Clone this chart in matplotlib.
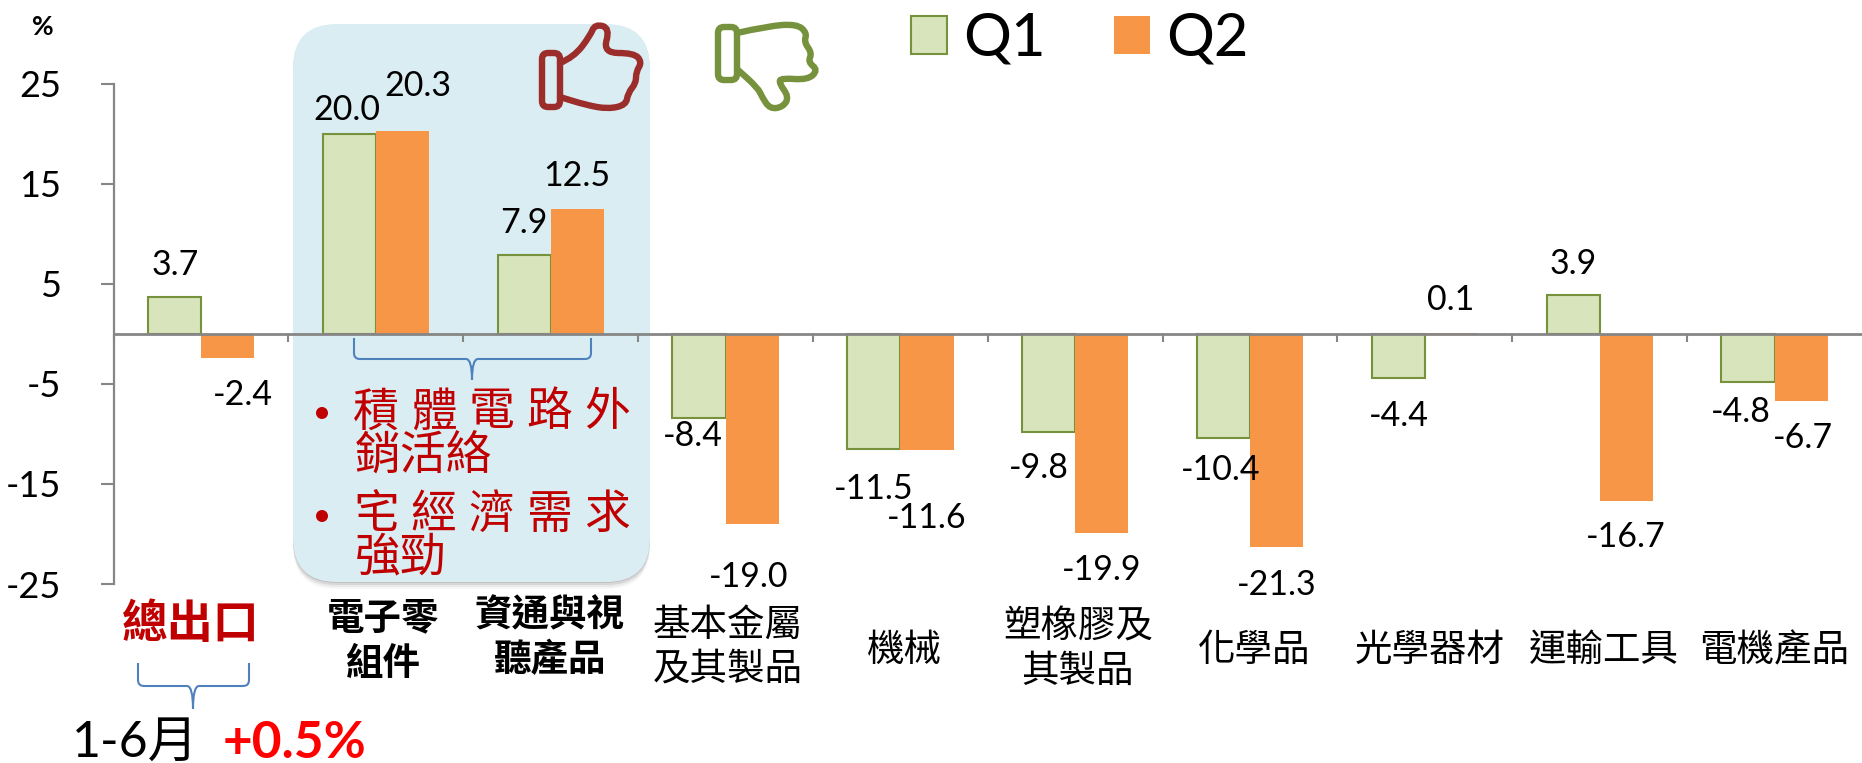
import matplotlib
matplotlib.use('Agg')
import matplotlib.pyplot as plt
from matplotlib.patches import FancyBboxPatch, Circle, PathPatch
from matplotlib.path import Path
from matplotlib.transforms import Affine2D
import numpy as np

plt.rcParams['font.family'] = ['Lato', 'Noto Sans CJK TC', 'DejaVu Sans']
plt.rcParams['axes.unicode_minus'] = False

categories = ['總出口', '電子零組件', '資通與視聽產品', '基本金屬及其製品', '機械',
              '塑橡膠及其製品', '化學品', '光學器材', '運輸工具', '電機產品']
q1 = [3.7, 20.0, 7.9, -8.4, -11.5, -9.8, -10.4, -4.4, 3.9, -4.8]
q2 = [-2.4, 20.3, 12.5, -19.0, -11.6, -19.9, -21.3, 0.1, -16.7, -6.7]
yticks = [25, 15, 5, -5, -15, -25]

W, H = 1862, 763
GREEN_EDGE = '#76923C'
GREEN_FILL = '#D8E4BC'
ORANGE = '#F79646'
DARK_RED = '#C00000'
BRACE = '#4F81BD'

# label centres in picture pixels, hand placed like the original
q1_label_pos = [(175, 265), (347, 110), (524, 223), (693, 436), (874, 489),
                (1039, 468), (1221, 470), (1399, 416), (1573, 264), (1741, 412)]
q2_label_pos = [(243, 395), (418, 86), (577, 176), (749, 577), (927, 518),
                (1102, 570), (1277, 585), (1451, 300), (1626, 537), (1803, 438)]

fig = plt.figure(figsize=(W / 100, H / 100), dpi=100)
ax = fig.add_axes([113.6 / W, 1 - 584 / H, (W - 113.6) / W, 500 / H])
ax.patch.set_alpha(0)

# picture pixels -> display, y down
px = Affine2D().scale(1, -1).translate(0, H)


def put(x, y, s, size, **kw):
    kw.setdefault('ha', 'center')
    kw.setdefault('va', 'center')
    return fig.text(x / W, 1 - y / H, s, fontsize=size, **kw)


def add_px(patch, zorder=1):
    patch.set_transform(px)
    patch.set_zorder(zorder)
    fig.add_artist(patch)


# blue highlight box, with a soft shadow under it
for off, alpha in [(7, 0.05), (5, 0.08), (3, 0.12), (1, 0.16)]:
    add_px(FancyBboxPatch((293 + 40, 24 + 40 + off), 357 - 80, 558 - 80,
                          boxstyle='round,pad=40,rounding_size=44',
                          fc='#555555', ec='none', alpha=alpha), zorder=-5)
add_px(FancyBboxPatch((293 + 40, 24 + 40), 357 - 80, 558 - 80,
                      boxstyle='round,pad=40,rounding_size=44',
                      fc='#DAEDF3', ec='none'), zorder=-4)

x = np.arange(len(categories))
width = 0.304
ax.bar(x - width / 2, q1, width, color=GREEN_FILL, edgecolor=GREEN_EDGE, linewidth=1.5, label='Q1', zorder=3)
ax.bar(x + width / 2, q2, width, color=ORANGE, linewidth=0, label='Q2', zorder=3)

ax.set_xlim(-0.5, len(categories) - 0.5)
ax.set_ylim(-25, 25)
ax.set_yticks(yticks)
ax.set_xticks(np.arange(len(categories)) - 0.5)
ax.set_xticklabels([])
ax.tick_params(axis='y', labelsize=26, length=9.5, width=1.5, color='#868686', pad=28)
ax.tick_params(axis='x', length=6, width=1.5, color='#868686')
for s in ['top', 'right']:
    ax.spines[s].set_visible(False)
ax.spines['bottom'].set_position(('data', 0))
ax.spines['bottom'].set_color('#868686')
ax.spines['bottom'].set_linewidth(2)
ax.spines['bottom'].set_zorder(4)
ax.spines['left'].set_color('#868686')
ax.spines['left'].set_linewidth(1.6)

ax.legend(loc='upper left', bbox_to_anchor=(911 / W, 1 - 12 / H), bbox_transform=fig.transFigure,
          ncol=2, frameon=False, fontsize=43, borderpad=0, borderaxespad=0,
          handlelength=0.6, handleheight=0.6, handletextpad=0.27, columnspacing=1.15)

for vals, pos in [(q1, q1_label_pos), (q2, q2_label_pos)]:
    for v, (lx, ly) in zip(vals, pos):
        put(lx, ly, '%.1f' % v, 24.5)

put(43, 27, '%', 19, fontweight='bold')

# category labels
put(191, 624, '總出口', 33, color=DARK_RED, fontweight='bold')
put(383, 618, '電子零', 27, fontweight='bold')
put(383, 663, '組件', 27, fontweight='bold')
put(550, 615, '資通與視', 27, fontweight='bold')
put(550, 659, '聽產品', 27, fontweight='bold')
put(728, 625, '基本金屬', 27)
put(728, 669, '及其製品', 27)
put(904, 650, '機械', 27)
put(1078, 627, '塑橡膠及', 27)
put(1078, 671, '其製品', 27)
put(1254, 650, '化學品', 27)
put(1430, 650, '光學器材', 27)
put(1604, 650, '運輸工具', 27)
put(1774, 650, '電機產品', 27)

# bullets in the box
for by, chars, ly in [(413, '積體電路外', 412), (516, '宅經濟需求', 515)]:
    add_px(Circle((322, by), 6, fc=DARK_RED, ec='none'), zorder=5)
    for cx, c in zip(np.linspace(376, 607, 5), chars):
        put(cx, ly, c, 33, color=DARK_RED)
put(355, 455, '銷活絡', 33, color=DARK_RED, ha='left')
put(355, 557, '強勁', 33, color=DARK_RED, ha='left')

put(72, 743, '1-6月', 36, ha='left')
put(223, 743, '+0.5%', 37, ha='left', color='#FF0000', fontweight='bold')


def brace(x0, x1, xm, y0, y1, y2):
    # curly brace opening upward
    r = 6
    verts = [(x0, y0), (x0, y1 - r), (x0, y1), (x0 + r, y1), (xm - r, y1),
             (xm, y1), (xm, y2), (xm, y1), (xm + r, y1), (x1 - r, y1),
             (x1, y1), (x1, y1 - r), (x1, y0)]
    codes = [Path.MOVETO, Path.LINETO, Path.CURVE3, Path.CURVE3, Path.LINETO,
             Path.CURVE3, Path.CURVE3, Path.CURVE3, Path.CURVE3, Path.LINETO,
             Path.CURVE3, Path.CURVE3, Path.LINETO]
    add_px(PathPatch(Path(verts, codes), fc='none', ec=BRACE, lw=1.5), zorder=5)


def smooth(pts):
    # open outline with rounded corners, quadratic through the midpoints
    verts = [pts[0]]
    codes = [Path.MOVETO]
    for i in range(1, len(pts) - 1):
        mid = ((pts[i][0] + pts[i + 1][0]) / 2, (pts[i][1] + pts[i + 1][1]) / 2)
        verts += [pts[i], mid]
        codes += [Path.CURVE3, Path.CURVE3]
    verts.append(pts[-1])
    codes.append(Path.LINETO)
    return Path(verts, codes)


brace(354, 591, 472, 338, 359, 380)
brace(138, 249, 193, 663, 686, 709)

# thumbs
up_hand = [(560, 63), (574, 57), (590, 36), (595, 24), (610, 28), (603, 53), (634, 53), (642, 62),
           (636, 72), (636, 83), (628, 93), (626, 105), (608, 109), (586, 105), (560, 97)]
down_hand = [(737, 33), (768, 26), (797, 24), (807, 33), (804, 42), (812, 53), (808, 62), (818, 70),
             (808, 80), (781, 78), (779, 83), (789, 97), (783, 107), (770, 109), (762, 97), (758, 88),
             (737, 69)]
for hand, cuff, color in [(up_hand, (544, 55, 14, 50), '#9B2D2A'), (down_hand, (720, 29, 15, 49), '#76923C')]:
    add_px(PathPatch(smooth(hand), fc='none', ec=color, lw=4.6, capstyle='round'), zorder=5)
    add_px(FancyBboxPatch((cuff[0], cuff[1]), cuff[2], cuff[3], boxstyle='round,pad=2,rounding_size=6',
                          fc='none', ec=color, lw=4.6), zorder=5)

fig.savefig('out.png', dpi=100)
